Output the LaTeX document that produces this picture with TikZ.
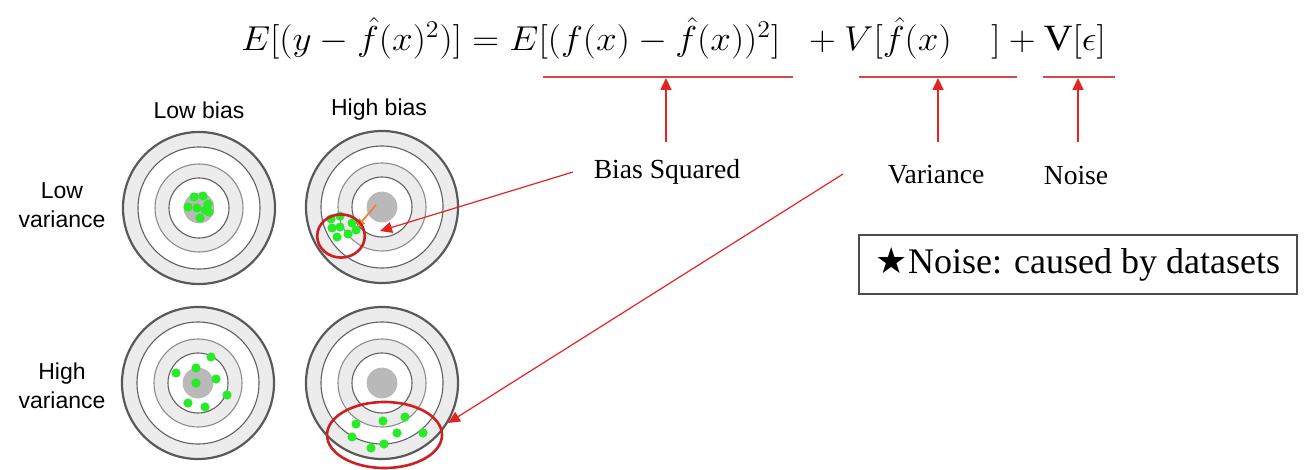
\documentclass[tikz,border=0pt]{standalone}
\usepackage{fontspec}
\usepackage{graphicx}
\setmainfont{Liberation Serif}
\setsansfont{Liberation Sans}
\newfontfamily\djv{DejaVu Sans}
\usetikzlibrary{arrows.meta}
\definecolor{ared}{RGB}{228,35,35}
\definecolor{ulinec}{RGB}{215,70,75}
\definecolor{dotg}{RGB}{40,235,40}
\definecolor{ringgray}{RGB}{236,236,236}
\definecolor{centergray}{RGB}{185,185,185}
\definecolor{smallorange}{RGB}{240,130,60}
\newcommand\drawtarget[2]{%
  \fill[ringgray] (#1,#2) circle[radius=38pt];
  \fill[white] (#1,#2) circle[radius=30.5pt];
  \fill[ringgray] (#1,#2) circle[radius=22pt];
  \fill[white] (#1,#2) circle[radius=15pt];
  \fill[centergray] (#1,#2) circle[radius=7.7pt];
  \draw[outerline] (#1,#2) circle[radius=38pt];
  \draw[ringline] (#1,#2) circle[radius=30.5pt];
  \draw[ringline,draw=black!45] (#1,#2) circle[radius=22pt];
  \draw[ringline] (#1,#2) circle[radius=15pt];
}
\begin{document}
\begin{tikzpicture}[x=0.5pt,y=-0.5pt,
  ringline/.style={draw=black!62, line width=0.55pt},
  outerline/.style={draw=black!65, line width=1.1pt},
  dot/.style={fill=dotg},
  ulinestyle/.style={draw=ulinec, line width=1pt},
  upar/.style={draw=ared, line width=0.8pt, -{Triangle[length=6pt,width=5.5pt]}},
  callout/.style={draw=ared, line width=0.6pt, -{Triangle[length=6pt,width=5.5pt]}},
  serifl/.style={font=\fontsize{13.8}{16}\selectfont, inner sep=0pt},
  sansl/.style={font=\sffamily\fontsize{11.5}{14.5}\selectfont, align=center, inner sep=0pt},
  redring/.style={draw=ared!90!black, line width=1.3pt},
]
\useasboundingbox (0,0) rectangle (1304,470);

% equation
\node[inner sep=0pt] (eq) at (673.5,38) {\scalebox{1.075}[1]{\fontsize{18.5}{21}\selectfont
  $E[(y-\hat{f}(x)^2)]=E[(f(x)-\hat{f}(x))^2]\;\;+V[\hat{f}(x)\quad]+\mathrm{V}[\epsilon]$}};

% underlines
\coordinate (u1) at (666,78);
\coordinate (u2) at (938,78);
\coordinate (u3) at (1078,78);
\draw[ulinestyle] (543,77) -- (793,77);
\draw[ulinestyle] (859,77) -- (1017,77);
\draw[ulinestyle] (1043,77) -- (1115,77);

% labels
\node[serifl] (bs) at (667,172) {Bias Squared};
\node[serifl] (var) at (936,175) {Variance};
\node[serifl] (noi) at (1076,175) {Noise};

\draw[upar] (u1 |- 0,142) -- (u1);
\draw[upar] (u2 |- 0,142) -- (u2);
\draw[upar] (u3 |- 0,142) -- (u3);

% targets
\drawtarget{199}{208}
\drawtarget{382}{207}
\drawtarget{198}{383}
\drawtarget{382}{383}

\node[sansl] (lb) at (199,110) {Low bias};
\node[sansl] (hb) at (379,110) {High bias};
\node[sansl] (lv) at (62,205) {Low\\variance};
\node[sansl] (hv) at (62,386) {High\\variance};

% dots
\foreach \x/\y in {194/197,203/196,208/204,188/207,197/208,205/210,200/218,209/212}
  \fill[dot] (\x,\y) circle[radius=2.3pt];
\foreach \x/\y in {331/219,340/216,332/228,340/227,352/223,337/237,348/234,356/230}
  \fill[dot] (\x,\y) circle[radius=2.3pt];
\foreach \x/\y in {211/357,196/368,176/373,216/379,196/383,227/395,188/403,205/407}
  \fill[dot] (\x,\y) circle[radius=2.3pt];
\foreach \x/\y in {356/424,383/421,405/417,352/437,397/433,423/433,384/444,371/448}
  \fill[dot] (\x,\y) circle[radius=2.3pt];

% small orange arrow
\draw[smallorange, line width=0.9pt, -{Triangle[length=4pt,width=4pt]}] (376,205) -- (357,227);

% red rings
\draw[redring] (341,236) ellipse[x radius=11.9pt, y radius=10.8pt];
\draw[redring] (384.5,435) ellipse[x radius=28.75pt, y radius=16.5pt];

% callout arrows
\coordinate (bstart) at (573,172);
\coordinate (btip) at (380,231);
\coordinate (vstart) at (843,174);
\coordinate (vtip) at (448,423);
\draw[callout] (bstart) -- (btip);
\draw[callout] (vstart) -- (vtip);

% noise box
\node[draw=black!70, line width=0.7pt, minimum width=219pt, minimum height=29.5pt, inner sep=0pt,
  font=\fontsize{18}{20}\selectfont] (nb) at (1078,264.5) {{\djv ★}Noise: caused by datasets};
\end{tikzpicture}
\end{document}
